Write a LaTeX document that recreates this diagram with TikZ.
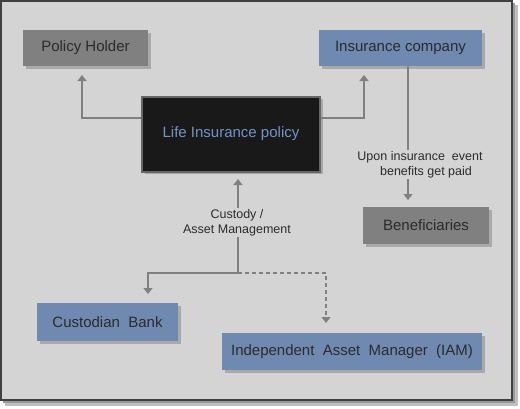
\documentclass[tikz,border=0pt]{standalone}
\usepackage{fontspec}
\setmainfont{Liberation Sans}
\usetikzlibrary{arrows.meta,shadows}
\definecolor{bgc}{HTML}{D4D4D4}
\definecolor{grayfill}{HTML}{808080}
\definecolor{bluefill}{HTML}{7089B0}
\definecolor{txt}{HTML}{2B2B2B}
\definecolor{linec}{HTML}{808080}
\definecolor{lifetxt}{HTML}{7393C9}
\begin{document}
\begin{tikzpicture}[x=1pt,y=-1pt,
  every node/.style={font=\fontsize{15}{17}\selectfont, text=txt},
  boxstyle/.style={rectangle, inner sep=0pt, drop shadow={shadow xshift=2.5pt, shadow yshift=-2.5pt, opacity=0.2, fill=black}},
  graybox/.style={boxstyle, fill=grayfill},
  bluebox/.style={boxstyle, fill=bluefill},
  lbl/.style={font=\fontsize{12.5}{15}\selectfont, align=center, inner sep=1pt},
  conn/.style={draw=linec, line width=1.3pt},
  arr/.style={conn, -{Triangle[width=9pt,length=6pt]}}
]
\useasboundingbox (0,0) rectangle (520,408);
\fill[black!25] (5,5) rectangle (518,406);
\fill[black!40] (3,3) rectangle (515,403);
\draw[fill=bgc, draw=black!75, line width=1.2pt] (1,1) rectangle (512,400);

\node[graybox, minimum width=125pt, minimum height=36pt] (ph) at (85.5,48) {Policy Holder};
\node[bluebox, minimum width=163pt, minimum height=36pt] (ic) at (400.5,48) {Insurance company};
\node[rectangle, fill=black!90, draw=black!60, line width=2pt, minimum width=178pt, minimum height=75pt,
      drop shadow={shadow xshift=2.5pt, shadow yshift=-2.5pt, opacity=0.2, fill=black}, text=lifetxt] (life) at (231,134) {Life Insurance policy};
\node[graybox, minimum width=126pt, minimum height=37pt] (ben) at (426,225.5) {Beneficiaries};
\node[bluebox, minimum width=141pt, minimum height=38pt] (cb) at (107.5,322) {Custodian\ \ Bank};
\node[bluebox, minimum width=260pt, minimum height=37pt] (iam) at (352,351.5) {Independent\ \ Asset\ \ Manager\ \ (IAM)};

\node[lbl] (upon) at (420,164.5) {Upon insurance\ \ event\\\hspace*{12pt}benefits get paid};
\node[lbl] (cust) at (237,222.5) {Custody /\\Asset Management};

\coordinate (phin) at (82,75);
\coordinate (icin) at (364,75);
\coordinate (icout) at (408,66);
\coordinate (bentip) at (408,200);
\coordinate (lifein) at (238,179);
\coordinate (split) at (238,273);
\coordinate (cbtip) at (148,294);
\coordinate (iamtip) at (326,323);

\draw[arr] ([yshift=16pt]life.west) -| (phin);
\draw[arr] ([yshift=16pt]life.east) -| (icin);
\draw[conn] (icout) -- (icout |- upon.north);
\draw[arr] (bentip |- upon.south) -- (bentip);
\draw[arr] (lifein |- cust.north) -- (lifein);
\draw[conn] (split) -- (split |- cust.south);
\draw[arr] (split) -| (cbtip);
\draw[arr, dashed, dash pattern=on 4pt off 3pt] (split) -| (iamtip);
\end{tikzpicture}
\end{document}
